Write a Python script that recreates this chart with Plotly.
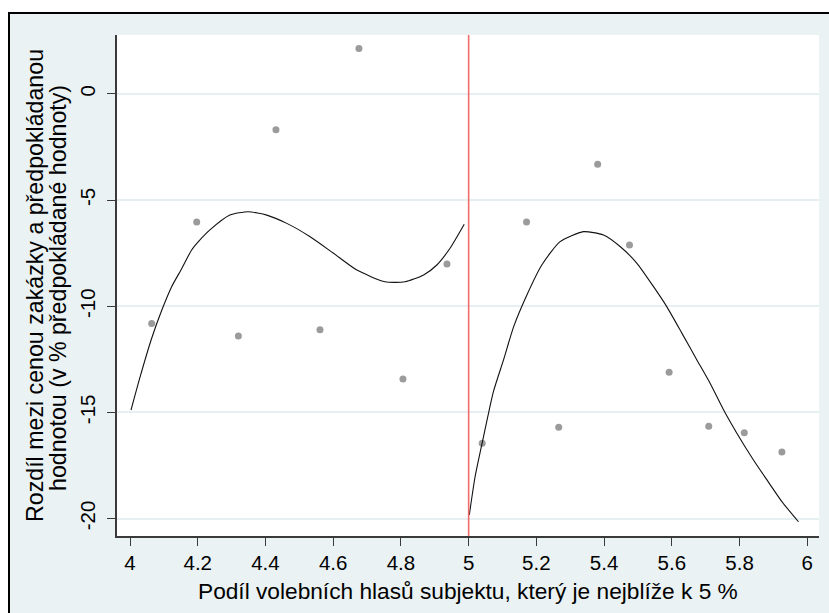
import plotly.graph_objects as go

# ---- data ----
left_x = [4.064, 4.197, 4.320, 4.431, 4.561, 4.676, 4.806, 4.936]
left_y = [-10.81, -6.04, -11.40, -1.69, -11.11, 2.14, -13.43, -8.01]
right_x = [5.040, 5.171, 5.266, 5.381, 5.475, 5.592, 5.709, 5.814, 5.925]
right_y = [-16.45, -6.04, -15.70, -3.31, -7.12, -13.11, -15.65, -15.96, -16.86]

fitL_x = [4.003, 4.030, 4.064, 4.094, 4.123, 4.153, 4.182, 4.202, 4.236, 4.295, 4.349,
          4.404, 4.463, 4.532, 4.601, 4.670, 4.753, 4.812, 4.867, 4.906, 4.945, 4.987]
fitL_y = [-14.89, -13.32, -11.51, -10.18, -9.08, -8.22, -7.35, -6.96, -6.41, -5.71, -5.55,
          -5.71, -6.10, -6.73, -7.51, -8.30, -8.85, -8.85, -8.53, -8.06, -7.27, -6.14]

fitR_x = [5.002, 5.019, 5.044, 5.073, 5.103, 5.133, 5.172, 5.216, 5.270, 5.339, 5.398, 5.448,
          5.497, 5.546, 5.585, 5.630, 5.674, 5.713, 5.753, 5.792, 5.841, 5.881, 5.925, 5.974]
fitR_y = [-19.83, -18.03, -16.14, -14.03, -12.53, -10.96, -9.47, -8.06, -6.96, -6.49, -6.65, -7.20,
          -7.98, -9.08, -10.02, -11.28, -12.53, -13.63, -14.89, -15.98, -17.24, -18.18, -19.20, -20.15]

cutoff = 5.0
x_ticks = [4, 4.2, 4.4, 4.6, 4.8, 5, 5.2, 5.4, 5.6, 5.8, 6]
x_tick_labels = ["4", "4.2", "4.4", "4.6", "4.8", "5", "5.2", "5.4", "5.6", "5.8", "6"]
y_ticks = [0, -5, -10, -15, -20]
y_tick_labels = ["0", "-5", "-10", "-15", "-20"]

x_title = "Podíl volebních hlasů subjektu, který je nejblíže k 5 %"
y_title_1 = "Rozdíl mezi cenou zakázky a předpokládanou"
y_title_2 = "hodnotou (v % předpokládané hodnoty)"

FONT = "Liberation Sans, Arial, sans-serif"
BG = "#eaf2f3"
W, H = 829, 613
ML, MR, MT, MB = 117, 10, 35, 77
PW, PH = W - ML - MR, H - MT - MB


def px(xp):
    return (xp - ML) / PW


def py(yp):
    return (H - MB - yp) / PH


fig = go.Figure()
marker = dict(color="#9b9b9b", size=7, line=dict(width=0))
fig.add_trace(go.Scatter(x=left_x, y=left_y, mode="markers", marker=marker))
fig.add_trace(go.Scatter(x=right_x, y=right_y, mode="markers", marker=marker))
fig.add_trace(go.Scatter(x=fitL_x, y=fitL_y, mode="lines",
                         line=dict(color="#111111", width=1.1, shape="spline", smoothing=0.6)))
fig.add_trace(go.Scatter(x=fitR_x, y=fitR_y, mode="lines",
                         line=dict(color="#111111", width=1.1, shape="spline", smoothing=0.6)))

fig.add_vline(x=cutoff, line=dict(color="#f26b6b", width=1.6), layer="above")

# outer framed background and white plot area
fig.add_shape(type="rect", xref="paper", yref="paper",
              x0=px(9), x1=px(W + 20), y0=py(H + 20), y1=py(13),
              fillcolor=BG, line=dict(color="black", width=2), layer="below")
fig.add_shape(type="rect", xref="paper", yref="paper", x0=0, x1=1, y0=0, y1=1,
              fillcolor="white", line=dict(width=0), layer="below")

fig.add_annotation(text=y_title_1, xref="paper", yref="paper", x=px(35), y=py(286),
                   textangle=-90, showarrow=False, xanchor="center", yanchor="middle",
                   font=dict(family=FONT, size=23.2, color="black"))
fig.add_annotation(text=y_title_2, xref="paper", yref="paper", x=px(58), y=py(288),
                   textangle=-90, showarrow=False, xanchor="center", yanchor="middle",
                   font=dict(family=FONT, size=23.2, color="black"))
fig.add_annotation(text=x_title, xref="paper", yref="paper", x=0.5, y=py(591),
                   showarrow=False, xanchor="center", yanchor="middle",
                   font=dict(family=FONT, size=22.7, color="black"))

fig.update_layout(
    width=W, height=H,
    margin=dict(l=ML, r=MR, t=MT, b=MB),
    paper_bgcolor="white", plot_bgcolor="rgba(0,0,0,0)",
    showlegend=False,
    font=dict(family=FONT, size=20, color="black"),
)
fig.update_xaxes(range=[3.9616, 6.0346], tickvals=x_ticks, ticktext=x_tick_labels,
                 showgrid=False, zeroline=False, showline=True, linecolor="#3a3a3a",
                 linewidth=1.5, ticks="outside", ticklen=8, tickcolor="#3a3a3a",
                 tickwidth=1.3, tickfont=dict(family=FONT, size=20.5, color="black"))
fig.update_yaxes(range=[-20.82, 2.77], tickvals=y_ticks, ticktext=y_tick_labels,
                 showgrid=True, gridcolor="#e6eff1", gridwidth=2, zeroline=False,
                 showline=True, linecolor="#3a3a3a", linewidth=1.5, ticks="outside",
                 ticklen=8, tickcolor="#3a3a3a", tickwidth=1.3, tickangle=-90,
                 ticklabelstandoff=4,
                 tickfont=dict(family=FONT, size=20.5, color="black"))

fig.write_html("out.html", config={"displayModeBar": False},
               post_script="document.body.style.margin='0px';document.body.style.overflow='hidden';")
